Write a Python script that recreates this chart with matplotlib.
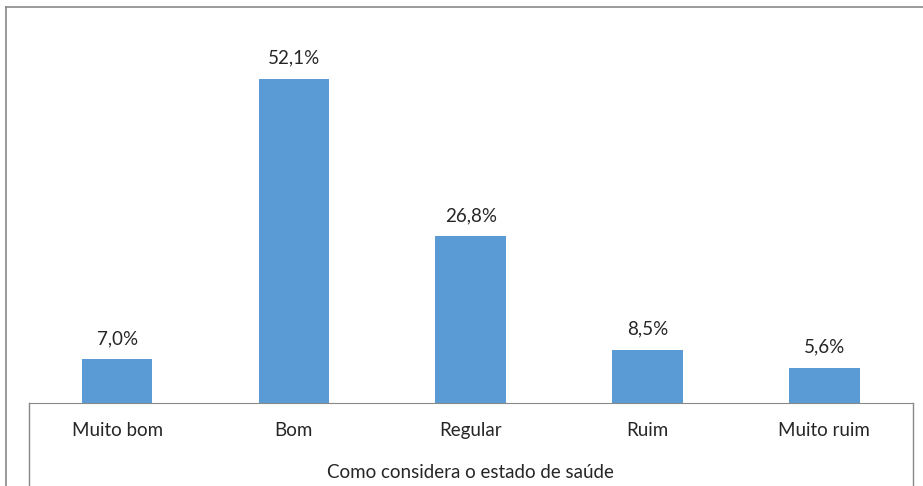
import matplotlib
matplotlib.use('Agg')
import matplotlib.pyplot as plt
from matplotlib.lines import Line2D

categorias = ['Muito bom', 'Bom', 'Regular', 'Ruim', 'Muito ruim']
percentuais = [7.0, 52.1, 26.8, 8.5, 5.6]
rotulos = ['7,0%', '52,1%', '26,8%', '8,5%', '5,6%']

plt.rcParams['font.family'] = ['Lato', 'DejaVu Sans']
cor_texto = '#262626'
cor_linha = '#898989'
fs = 13.5

fig = plt.figure(figsize=(9.23, 4.86), dpi=100)
ax = fig.add_axes([28.7 / 923, 83 / 486, 884 / 923, 373 / 486])

x = range(len(categorias))
barras = ax.bar(x, percentuais, width=0.4, color='#5B9BD5')
ax.set_xlim(-0.5, len(categorias) - 0.5)
ax.set_ylim(0, 60)

for b, r in zip(barras, rotulos):
    ax.annotate(r, (b.get_x() + b.get_width() / 2, b.get_height()),
                xytext=(0, 15), textcoords='offset points',
                ha='center', va='center', fontsize=fs, color=cor_texto)

ax.set_xticks(list(x))
ax.set_xticklabels(categorias, fontsize=fs, color=cor_texto)
ax.tick_params(axis='x', length=0, pad=14)
ax.set_yticks([])
ax.set_xlabel('Como considera o estado de saúde', fontsize=fs,
              color=cor_texto, labelpad=18)

for s in ['top', 'right', 'left']:
    ax.spines[s].set_visible(False)
ax.spines['bottom'].set_color(cor_linha)

# caixa do eixo de categorias
ax.plot([0, 0], [0, -0.23], transform=ax.transAxes, color=cor_linha,
        lw=1, clip_on=False)
ax.plot([1, 1], [0, -0.23], transform=ax.transAxes, color=cor_linha,
        lw=1, clip_on=False)

# borda do gráfico
fig.add_artist(Line2D([6 / 923, 6 / 923], [0, 1 - 7 / 486],
                      transform=fig.transFigure, color=cor_linha, lw=1.2))
fig.add_artist(Line2D([6 / 923, 1], [1 - 7 / 486, 1 - 7 / 486],
                      transform=fig.transFigure, color=cor_linha, lw=1.2))

fig.savefig('out.png', dpi=100)
